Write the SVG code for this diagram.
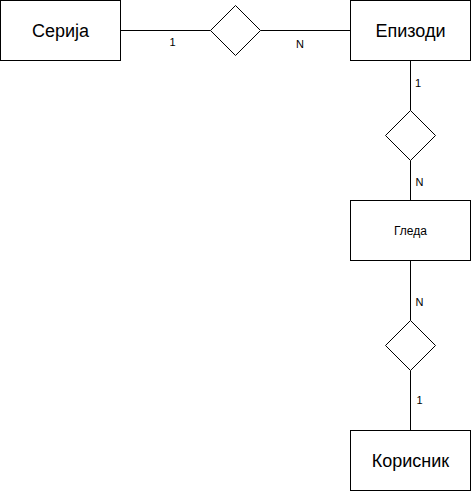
<svg xmlns="http://www.w3.org/2000/svg" width="471" height="491" viewBox="0 0 471 491">
<style>
.box{fill:#fff;stroke:#000;stroke-width:1}
.rel{fill:#fff;stroke:#000;stroke-width:1}
.ln{stroke:#000;stroke-width:1;fill:none}
.t{font-family:"Liberation Sans",Arial,sans-serif;fill:#000;text-anchor:middle;dominant-baseline:central}
.big{font-size:18px}
.small{font-size:12px}
.lbl{font-family:"Liberation Sans",Arial,sans-serif;font-size:11px;fill:#000;text-anchor:middle}
</style>
<rect width="471" height="491" fill="#fff"/>
<g id="connectors">
<line class="ln" x1="120.5" y1="30.5" x2="210.5" y2="30.5"/>
<line class="ln" x1="260.5" y1="30.5" x2="350.5" y2="30.5"/>
<line class="ln" x1="410.5" y1="60.5" x2="410.5" y2="110.5"/>
<line class="ln" x1="410.5" y1="160.5" x2="410.5" y2="200.5"/>
<line class="ln" x1="410.5" y1="260.5" x2="410.5" y2="320.5"/>
<line class="ln" x1="410.5" y1="370.5" x2="410.5" y2="430.5"/>
<text class="lbl" x="172.5" y="46">1</text>
<text class="lbl" x="300" y="48">N</text>
<text class="lbl" x="418" y="87">1</text>
<text class="lbl" x="419.5" y="186">N</text>
<text class="lbl" x="419.5" y="306">N</text>
<text class="lbl" x="419.5" y="404">1</text>
</g>
<g id="serija">
<rect class="box" x="0.5" y="0.5" width="120" height="60"/>
<text class="t big" x="60.5" y="30.5">Серија</text>
</g>
<g id="rel1">
<polygon class="rel" points="235.5,5.5 260.5,30.5 235.5,55.5 210.5,30.5"/>
</g>
<g id="epizodi">
<rect class="box" x="350.5" y="0.5" width="120" height="60"/>
<text class="t big" x="410.5" y="30.5">Епизоди</text>
</g>
<g id="rel2">
<polygon class="rel" points="410.5,110.5 435.5,135.5 410.5,160.5 385.5,135.5"/>
</g>
<g id="gleda">
<rect class="box" x="350.5" y="200.5" width="120" height="60"/>
<text class="t small" x="410.5" y="230.5">Гледа</text>
</g>
<g id="rel3">
<polygon class="rel" points="410.5,320.5 435.5,345.5 410.5,370.5 385.5,345.5"/>
</g>
<g id="korisnik">
<rect class="box" x="350.5" y="430.5" width="120" height="60"/>
<text class="t big" x="410.5" y="460.5">Корисник</text>
</g>
</svg>
